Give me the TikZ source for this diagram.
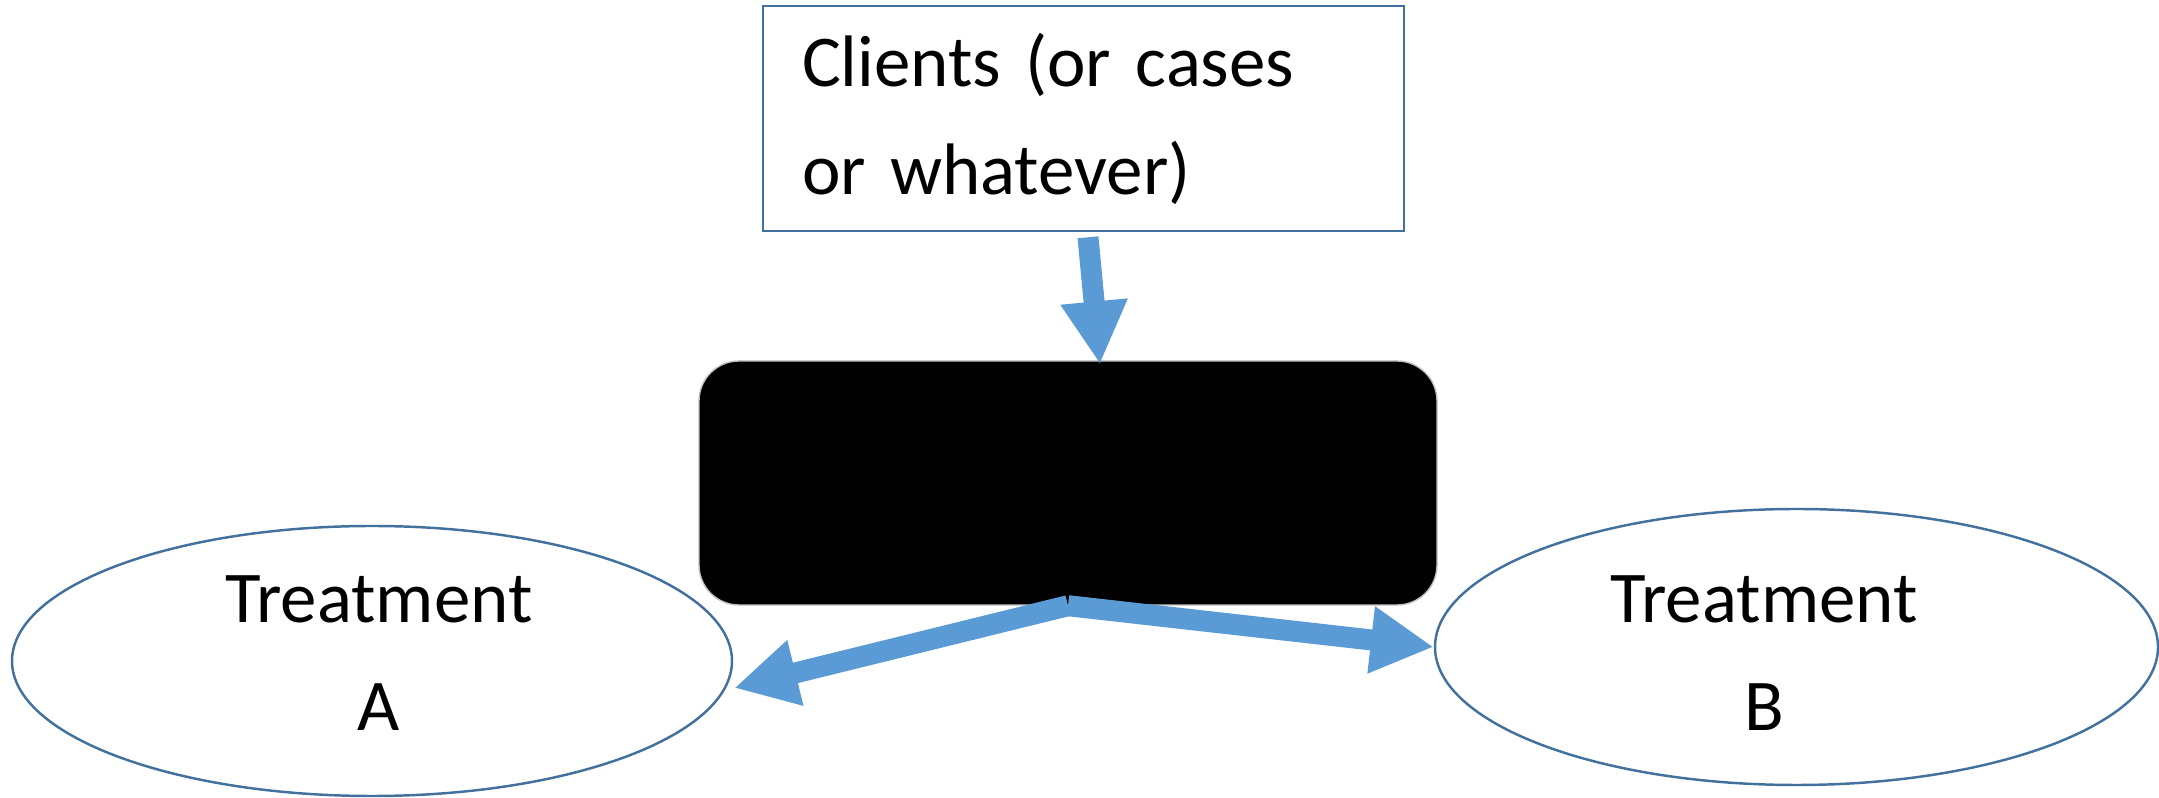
\documentclass[tikz,border=0pt]{standalone}
\usepackage{fontspec}
\setmainfont{Carlito}
\usepackage{tikz}
\usetikzlibrary{arrows.meta,positioning,shapes.geometric}
\definecolor{outl}{HTML}{41719C}
\definecolor{pilblue}{HTML}{5B9BD5}
\newcommand{\diagfont}{\fontsize{20.75pt}{30.7pt}\selectfont}
\tikzset{
    %Define style for the text box
    clientbox/.style={
    	rectangle,
    	draw=outl, line width=0.7pt,
    	minimum width=6.41cm,
    	minimum height=2.25cm,
    	inner xsep=0.39cm,
    	text width=5.63cm,
    	align=left,
    	font=\diagfont
    },
    %Define style for the black box
    blackbox/.style={
    	rectangle,
    	rounded corners=0.4cm,
    	draw=gray!50, thin,
    	fill=black,
    	minimum width=7.38cm,
    	minimum height=2.44cm
    },
    %Define style for the treatments
    treat/.style={
    	ellipse,
    	draw=outl, line width=0.7pt,
    	minimum width=7.2cm,
    	minimum height=2.7cm,
    	inner sep=0pt
    },
    treatlabel/.style={
    	align=center,
    	inner sep=0pt,
    	font=\diagfont
    },
    % Define arrow style
    pil/.style={
    	-{Triangle[length=0.63cm,width=0.63cm]},
    	draw=pilblue,
    	line width=0.21cm
    },
}

\begin{document}
\begin{tikzpicture}
\useasboundingbox (0,0) rectangle (21.59,-7.98);
%nodes
\node[blackbox](black) at (10.68,-4.83){};
\node[clientbox, above=1.28cm of black, xshift=0.155cm](clients){Clients (or cases\\or whatever)};
\node[treat](ta) at (3.72,-6.61){};
\node[treat, minimum width=7.23cm, minimum height=2.76cm](tb) at (17.965,-6.47){};
\node[treatlabel] (tatext) at ([xshift=0.07cm,yshift=0.075cm]ta.center){Treatment\\A};
\node[treatlabel] (tbtext) at ([xshift=-0.325cm,yshift=-0.065cm]tb.center){Treatment\\B};
%arrows
\draw[pil] ([xshift=0.045cm,yshift=-0.05cm]clients.south) -- ([xshift=0.32cm,yshift=-0.04cm]black.north);
\draw[pil] (black.south) -- ([xshift=0.01cm,yshift=-0.27cm]ta.east);
\draw[pil] (black.south) -- (tb.west);
\end{tikzpicture}
\end{document}
